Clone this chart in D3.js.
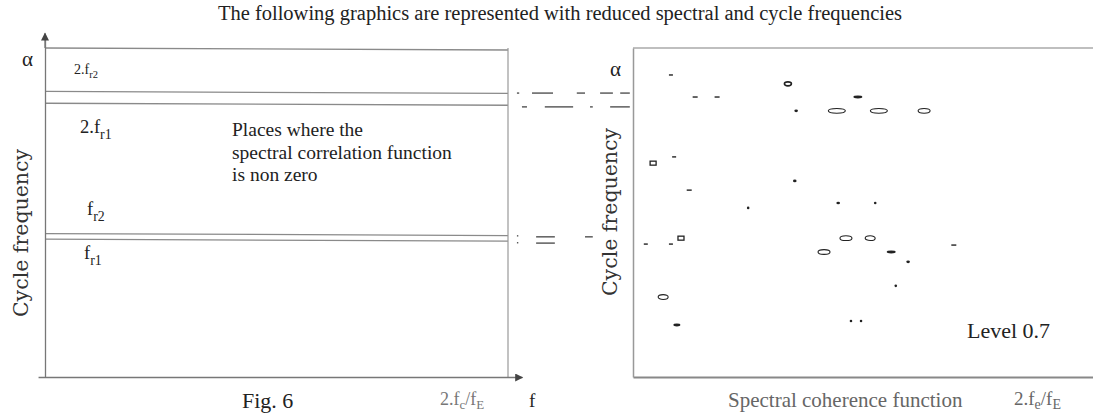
<!DOCTYPE html>
<html>
<head>
<meta charset="utf-8">
<script src="https://cdn.jsdelivr.net/npm/d3@7"></script>
<style>
body { margin: 0; background: #fff; }
svg text { font-family: "Liberation Serif", "DejaVu Serif", serif; }
svg text.wide { font-family: "DejaVu Serif", serif; }
</style>
</head>
<body>
<div id="chart"></div>
<script>
// alpha (reduced cycle frequency) of the lines in the left sketch
var lineAlpha = [1.0, 0.868, 0.832, 0.436, 0.419];

// contour blobs of the spectral coherence at level 0.7 (reduced f, reduced alpha)
var blobF =     [0.083, 0.136, 0.184, 0.339, 0.492, 0.357, 0.446, 0.538, 0.637, 0.044, 0.090, 0.354, 0.123, 0.252, 0.105, 0.028, 0.083, 0.066, 0.096, 0.449, 0.530, 0.466, 0.519, 0.418, 0.565, 0.702, 0.602, 0.575, 0.477, 0.499];
var blobA =     [0.918, 0.851, 0.851, 0.891, 0.851, 0.809, 0.809, 0.809, 0.809, 0.650, 0.669, 0.596, 0.568, 0.514, 0.422, 0.404, 0.404, 0.243, 0.158, 0.529, 0.529, 0.422, 0.422, 0.380, 0.380, 0.401, 0.350, 0.277, 0.170, 0.170];
var blobKind =  ['dash','dash','dash','blob','bar','dot','ell','ell','ell','sq','dash','dot','dash','dot','sq','dash','dash','ell','bar','dot','dot','ell','ell','ell','bar','dash','dot','dot','dot','dot'];
var blobSize =  [4, 5, 5, 7, 9, 3, 17, 17, 12, 6, 4, 3, 5, 2, 6, 4, 4, 10, 7, 3, 2, 12, 10, 12, 9, 5, 3, 2, 2, 2];

// broken guide lines joining the two pictures (reduced f of the right picture, alpha)
var guideF0 = [-0.254, -0.221, -0.123, -0.072, -0.028, -0.243, -0.193, -0.094, -0.050, -0.212, -0.212, -0.105, -0.254, -0.254];
var guideF1 = [-0.249, -0.175, -0.105, -0.044, -0.007, -0.232, -0.131, -0.088, -0.007, -0.171, -0.171, -0.088, -0.251, -0.251];
var guideA =  [0.863, 0.863, 0.863, 0.863, 0.863, 0.821, 0.821, 0.821, 0.821, 0.426, 0.407, 0.426, 0.429, 0.408];

var title = 'The following graphics are represented with reduced spectral and cycle frequencies';

var W = 1093, H = 414;
var svg = d3.select('#chart').append('svg').attr('width', W).attr('height', H);
svg.append('rect').attr('width', W).attr('height', H).attr('fill', '#fff');

var xL = d3.scaleLinear().domain([0, 1]).range([45, 508]);
var xR = d3.scaleLinear().domain([0, 1]).range([633, 1090]);
var y = d3.scaleLinear().domain([0, 1]).range([377, 48]);

var defs = svg.append('defs');
defs.append('marker')
	.attr('id', 'arr')
	.attr('viewBox', '0 0 10 10')
	.attr('refX', 9).attr('refY', 5)
	.attr('markerWidth', 10).attr('markerHeight', 8)
	.attr('markerUnits', 'userSpaceOnUse')
	.attr('orient', 'auto')
	.append('path')
	.attr('d', 'M0,0L10,5L0,10z')
	.attr('fill', '#444');

svg.append('text')
	.attr('x', 560).attr('y', 20)
	.attr('text-anchor', 'middle')
	.attr('font-size', 20.5)
	.attr('fill', '#222')
	.text(title);

// ---------- left sketch ----------
var left = svg.append('g');

left.selectAll('line.alpha')
	.data(lineAlpha)
	.enter().append('line')
	.attr('class', 'alpha')
	.attr('x1', xL(0)).attr('x2', xL(1))
	.attr('y1', function(d) { return y(d); })
	.attr('y2', function(d) { return y(d) + 2; })
	.attr('stroke', '#8a8a8a')
	.attr('stroke-width', 1.3);

left.append('line')
	.attr('x1', xL(1)).attr('x2', xL(1))
	.attr('y1', y(1)).attr('y2', y(0))
	.attr('stroke', '#999').attr('stroke-width', 1.2);

// axes: domain lines only
var xLax = d3.scaleLinear().domain([-0.015, 1.03]).range([xL(-0.015), xL(1.03)]);
left.append('g')
	.attr('transform', 'translate(0,' + y(0) + ')')
	.call(d3.axisBottom(xLax).tickValues([]).tickSizeOuter(0))
	.select('.domain').attr('stroke', '#777').attr('stroke-width', 1.3)
	.attr('marker-end', 'url(#arr)');

var yLax = d3.scaleLinear().domain([0, 1.04]).range([y(0), y(1.04)]);
left.append('g')
	.attr('transform', 'translate(' + xL(0) + ',0)')
	.call(d3.axisLeft(yLax).tickValues([]).tickSizeOuter(0))
	.select('.domain').attr('stroke', '#777').attr('stroke-width', 1.3);
left.append('line')
	.attr('x1', xL(0)).attr('x2', xL(0))
	.attr('y1', y(1.0)).attr('y2', y(1.045))
	.attr('stroke', '#777').attr('stroke-width', 1.3).attr('marker-end', 'url(#arr)');

function subLabel(g, x, yy, main, sub, size) {
	var t = g.append('text').attr('x', x).attr('y', yy).attr('font-size', size).attr('fill', '#222');
	t.append('tspan').text(main);
	t.append('tspan').attr('dy', size * 0.3).attr('font-size', size * 0.75).text(sub);
	return t;
}

left.append('text').attr('x', 22).attr('y', 66).attr('font-size', 21).attr('fill', '#222').text('α');
subLabel(left, 74, 74, '2.f', 'r2', 14);
subLabel(left, 80, 133, '2.f', 'r1', 18.5);
subLabel(left, 87, 215, 'f', 'r2', 18.5);
subLabel(left, 84, 259, 'f', 'r1', 18.5);

left.append('text')
	.attr('x', 232).attr('y', 136).attr('font-size', 19.5).attr('fill', '#222')
	.selectAll('tspan')
	.data(['Places where the', 'spectral correlation function', 'is non zero'])
	.enter().append('tspan')
	.attr('x', 232)
	.attr('dy', function(d, i) { return i ? 22.5 : 0; })
	.text(function(d) { return d; });

left.append('text')
	.attr('class', 'wide')
	.attr('transform', 'translate(28,233) rotate(-90)')
	.attr('text-anchor', 'middle')
	.attr('font-size', 20.5).attr('fill', '#333')
	.text('Cycle frequency');

left.append('text').attr('x', 242).attr('y', 408).attr('font-size', 22).attr('fill', '#222').text('Fig. 6');
var labL = left.append('text').attr('x', 440).attr('y', 405).attr('font-size', 18).attr('fill', '#777');
labL.append('tspan').text('2.f');
labL.append('tspan').attr('dy', 4).attr('font-size', 13).text('c');
labL.append('tspan').attr('dy', -4).text('/f');
labL.append('tspan').attr('dy', 4).attr('font-size', 13).text('E');
left.append('text').attr('x', 529).attr('y', 407).attr('font-size', 19).attr('fill', '#222').text('f');

// ---------- guide dashes ----------
svg.append('g').selectAll('line')
	.data(guideA)
	.enter().append('line')
	.attr('x1', function(d, i) { return xR(guideF0[i]); })
	.attr('x2', function(d, i) { return xR(guideF1[i]); })
	.attr('y1', function(d) { return y(d); })
	.attr('y2', function(d) { return y(d); })
	.attr('stroke', '#444').attr('stroke-width', 1.3);

// ---------- right picture ----------
var right = svg.append('g');

right.append('line')
	.attr('x1', xR(0)).attr('x2', W)
	.attr('y1', y(1)).attr('y2', y(1))
	.attr('stroke', '#aaa').attr('stroke-width', 1.5);

var xRax = d3.scaleLinear().domain([0, 1]).range([xR(0), W]);
right.append('g')
	.attr('transform', 'translate(0,' + y(0) + ')')
	.call(d3.axisBottom(xRax).tickValues([]).tickSizeOuter(0))
	.select('.domain').attr('stroke', '#888').attr('stroke-width', 2);

var yRax = d3.scaleLinear().domain([0, 1]).range([y(0), y(1)]);
right.append('g')
	.attr('transform', 'translate(' + xR(0) + ',0)')
	.call(d3.axisLeft(yRax).tickValues([]).tickSizeOuter(0))
	.select('.domain').attr('stroke', '#999').attr('stroke-width', 1.5);

var blobs = right.selectAll('g.blob')
	.data(blobF.map(function(f, i) { return { f: f, a: blobA[i], kind: blobKind[i], s: blobSize[i] }; }))
	.enter().append('g')
	.attr('class', 'blob')
	.attr('transform', function(d) { return 'translate(' + xR(d.f) + ',' + y(d.a) + ')'; });

blobs.each(function(d) {
	var g = d3.select(this);
	if (d.kind === 'dash') {
		g.append('line').attr('x1', -d.s / 2).attr('x2', d.s / 2).attr('stroke', '#222').attr('stroke-width', 1.4);
	} else if (d.kind === 'bar') {
		g.append('ellipse').attr('rx', d.s / 2).attr('ry', 1.4).attr('fill', '#222');
	} else if (d.kind === 'dot') {
		g.append('ellipse').attr('rx', d.s / 2 + 0.3).attr('ry', 1.3).attr('fill', '#222');
	} else if (d.kind === 'blob') {
		g.append('ellipse').attr('rx', d.s / 2).attr('ry', 2).attr('fill', 'none').attr('stroke', '#222').attr('stroke-width', 1.6);
	} else if (d.kind === 'sq') {
		g.append('rect').attr('x', -d.s / 2).attr('y', -2).attr('width', d.s).attr('height', 4)
			.attr('fill', 'none').attr('stroke', '#222').attr('stroke-width', 1.3);
	} else {
		g.append('ellipse').attr('rx', d.s / 2).attr('ry', 2.4).attr('fill', 'none').attr('stroke', '#222').attr('stroke-width', 1.1);
	}
});

right.append('text').attr('x', 610).attr('y', 76).attr('font-size', 21).attr('fill', '#222').text('α');
right.append('text')
	.attr('class', 'wide')
	.attr('transform', 'translate(617,212) rotate(-90)')
	.attr('text-anchor', 'middle')
	.attr('font-size', 20.5).attr('fill', '#333')
	.text('Cycle frequency');
right.append('text').attr('x', 967).attr('y', 338).attr('font-size', 22).attr('fill', '#222').text('Level 0.7');
right.append('text').attr('x', 728).attr('y', 407).attr('font-size', 21).attr('fill', '#666').text('Spectral coherence function');
var lab = right.append('text').attr('x', 1014).attr('y', 405).attr('font-size', 19).attr('fill', '#666');
lab.append('tspan').text('2.f');
lab.append('tspan').attr('dy', 4).attr('font-size', 14).text('e');
lab.append('tspan').attr('dy', -4).text('/f');
lab.append('tspan').attr('dy', 4).attr('font-size', 14).text('E');
</script>
</body>
</html>
